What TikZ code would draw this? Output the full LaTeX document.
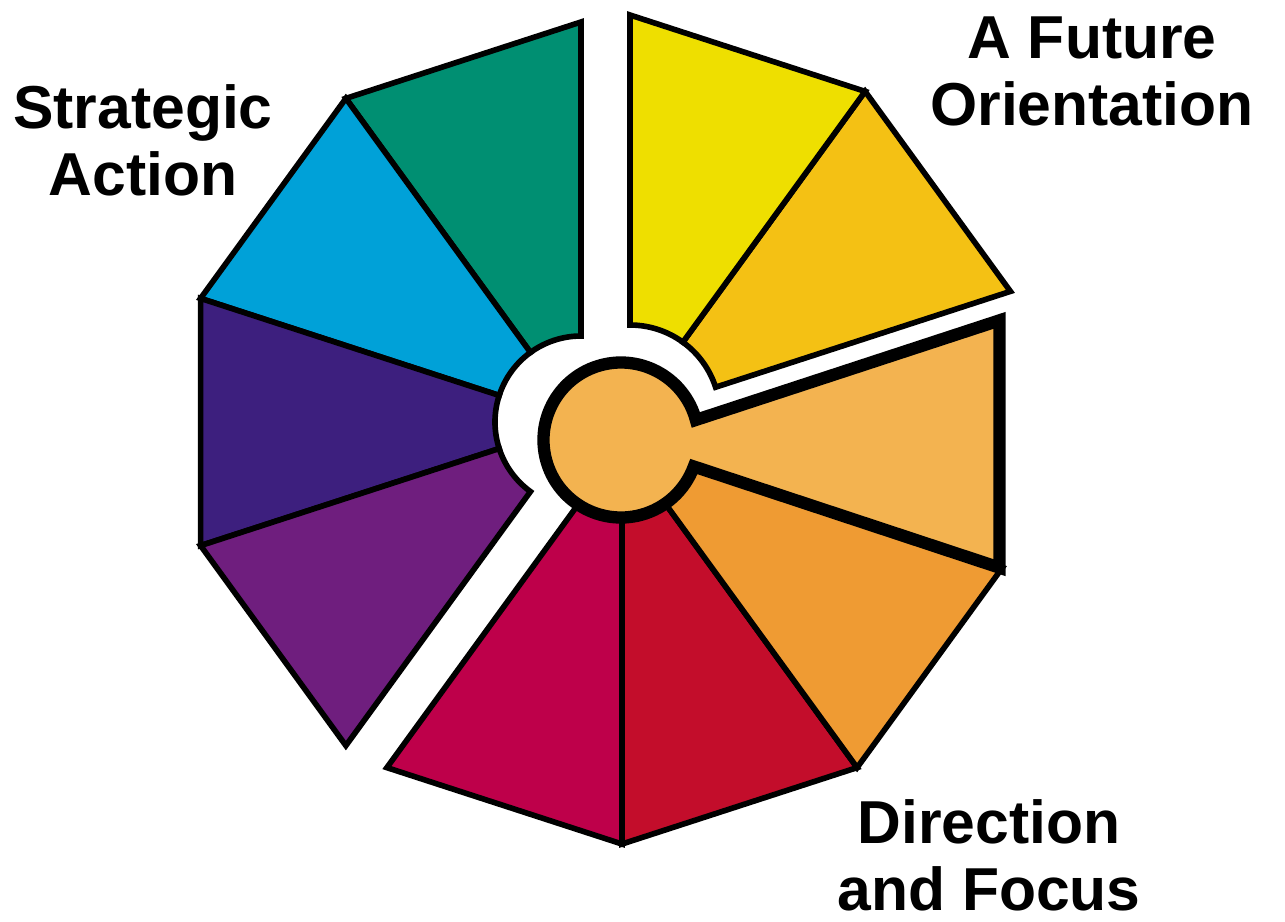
\documentclass[tikz,border=0pt]{standalone}
\usepackage{fontspec}
\setmainfont{Liberation Sans}
\usetikzlibrary{calc}

\definecolor{segGreen}{RGB}{0,143,114}
\definecolor{segBlue}{RGB}{0,161,216}
\definecolor{segIndigo}{RGB}{61,31,126}
\definecolor{segPurple}{RGB}{111,30,126}
\definecolor{segCrimson}{RGB}{190,0,74}
\definecolor{segRed}{RGB}{195,13,43}
\definecolor{segOrange}{RGB}{239,155,51}
\definecolor{segPeach}{RGB}{243,179,80}
\definecolor{segGold}{RGB}{244,193,20}
\definecolor{segYellow}{RGB}{238,223,0}

\begin{document}
\begin{tikzpicture}[
    x=0.02cm, y=0.02cm,
    seg/.style={draw=black, line width=3.2pt, line join=miter},
    hubline/.style={draw=black, line width=7pt, fill=segPeach},
    heading/.style={font=\bfseries\fontsize{34.5}{38}\selectfont, align=center,
                    anchor=base, inner sep=0pt},
]
\useasboundingbox (-619,-477) rectangle (666,444);
\coordinate (hub) at (2,4);

% left block of four wedges
\begin{scope}[shift={(-38,22)}]
  \foreach \a/\c in {90/segGreen, 126/segBlue, 162/segIndigo, 198/segPurple}
    \draw[seg, fill=\c] (\a:86) -- (\a:400) -- (\a+36:400) -- (\a+36:86)
      arc[start angle=\a+36, end angle=\a, radius=86] -- cycle;
\end{scope}

% upper right pair
\begin{scope}[shift={(11,29)}]
  \foreach \a/\c in {18/segGold, 54/segYellow}
    \draw[seg, fill=\c] (\a:90) -- (\a:400) -- (\a+36:400) -- (\a+36:90)
      arc[start angle=\a+36, end angle=\a, radius=90] -- cycle;
\end{scope}

% lower right three, tucked under the hub
\begin{scope}[shift={(3,0)}]
  \foreach \a/\c in {-126/segCrimson, -90/segRed, -54/segOrange}
    \draw[seg, fill=\c] (\a:70) -- (\a:400) -- (\a+36:400) -- (\a+36:70)
      arc[start angle=\a+36, end angle=\a, radius=70] -- cycle;
\end{scope}

% hub joined to its wedge
\draw[hubline] ($(hub)+(15:77.5)$) arc[start angle=15, end angle=340, radius=77.5]
  -- (-18:400) -- (18:400) -- cycle;

\node[heading] (strategic) at (-476,249) {Strategic\\Action};
\node[heading] (future) at (473,319) {A Future\\Orientation};
\node[heading] (direction) at (370,-466) {Direction\\and Focus};
\end{tikzpicture}
\end{document}
